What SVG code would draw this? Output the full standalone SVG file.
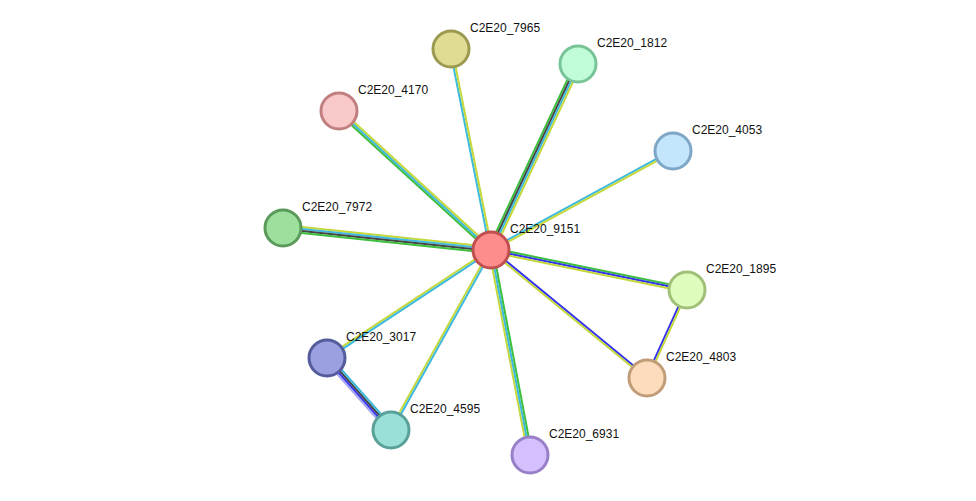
<svg xmlns="http://www.w3.org/2000/svg" width="976" height="501" viewBox="0 0 976 501">
<style>
line{stroke-width:2}
.g{stroke:#3dbe3d}.k{stroke:#444}.c{stroke:#3cb9dc}.y{stroke:#c4d83c}.b{stroke:#3333ee}.l{stroke:#a6a6f4}
circle{stroke-width:3}
text{font-family:"Liberation Sans",Arial,sans-serif;font-size:12px;fill:#111}
</style>
<rect width="976" height="501" fill="#fff"/>
<g id="edges">
<g><line class="c" x1="490" y1="250.2" x2="450" y2="49.2"/><line class="y" x1="492" y1="249.8" x2="452" y2="48.8"/></g>
<g><line class="g" x1="488.3" y1="248.7" x2="575.3" y2="62.7"/><line class="k" x1="490.1" y1="249.6" x2="577.1" y2="63.6"/><line class="c" x1="491.9" y1="250.4" x2="578.9" y2="64.4"/><line class="y" x1="493.7" y1="251.3" x2="580.7" y2="65.3"/></g>
<g><line class="g" x1="489.7" y1="251.5" x2="337.7" y2="112.5"/><line class="c" x1="491" y1="250" x2="339" y2="111"/><line class="y" x1="492.3" y1="248.5" x2="340.3" y2="109.5"/></g>
<g><line class="c" x1="490.5" y1="249.1" x2="672.5" y2="150.1"/><line class="y" x1="491.5" y1="250.9" x2="673.5" y2="151.9"/></g>
<g><line class="y" x1="491.3" y1="247" x2="283.3" y2="225"/><line class="c" x1="491.1" y1="249" x2="283.1" y2="227"/><line class="k" x1="490.9" y1="251" x2="282.9" y2="229"/><line class="g" x1="490.7" y1="253" x2="282.7" y2="231"/></g>
<g><line class="g" x1="491.4" y1="248" x2="687.4" y2="288"/><line class="b" x1="491" y1="250" x2="687" y2="290"/><line class="y" x1="490.6" y1="252" x2="686.6" y2="292"/></g>
<g><line class="b" x1="491.6" y1="249.2" x2="647.6" y2="377.2"/><line class="y" x1="490.4" y1="250.8" x2="646.4" y2="378.8"/></g>
<g><line class="y" x1="490.4" y1="249.2" x2="326.4" y2="357.2"/><line class="c" x1="491.6" y1="250.8" x2="327.6" y2="358.8"/></g>
<g><line class="y" x1="490.1" y1="249.5" x2="390.1" y2="429.5"/><line class="c" x1="491.9" y1="250.5" x2="391.9" y2="430.5"/></g>
<g><line class="y" x1="489" y1="250.4" x2="528" y2="455.4"/><line class="c" x1="491" y1="250" x2="530" y2="455"/><line class="g" x1="493" y1="249.6" x2="532" y2="454.6"/></g>
<g><line class="l" x1="324.8" y1="360" x2="388.8" y2="432"/><line class="b" x1="326.3" y1="358.7" x2="390.3" y2="430.7"/><line class="k" x1="327.8" y1="357.3" x2="391.8" y2="429.3"/><line class="c" x1="329.3" y1="356" x2="393.3" y2="428"/></g>
<g><line class="b" x1="686.1" y1="289.6" x2="646.1" y2="377.6"/><line class="y" x1="687.9" y1="290.4" x2="647.9" y2="378.4"/></g>
</g>
<g id="n9151"><circle cx="491" cy="250" r="18" fill="#ff8c8c" stroke="#c05050"/><text x="510" y="233">C2E20_9151</text></g>
<g id="n7965"><circle cx="451" cy="49" r="18" fill="#e0dc94" stroke="#9c9a50"/><text x="470" y="32">C2E20_7965</text></g>
<g id="n1812"><circle cx="578" cy="64" r="18" fill="#c0fcd8" stroke="#78c496"/><text x="597" y="47">C2E20_1812</text></g>
<g id="n4170"><circle cx="339" cy="111" r="18" fill="#f9c8c8" stroke="#c08080"/><text x="358" y="94">C2E20_4170</text></g>
<g id="n4053"><circle cx="673" cy="151" r="18" fill="#c4e6fc" stroke="#7ea6c6"/><text x="692" y="134">C2E20_4053</text></g>
<g id="n7972"><circle cx="283" cy="228" r="18" fill="#9de09d" stroke="#5a9a5a"/><text x="302" y="211">C2E20_7972</text></g>
<g id="n1895"><circle cx="687" cy="290" r="18" fill="#e0fcbc" stroke="#a0c078"/><text x="706" y="273">C2E20_1895</text></g>
<g id="n3017"><circle cx="327" cy="358" r="18" fill="#9aa0e0" stroke="#545c9c"/><text x="346" y="341">C2E20_3017</text></g>
<g id="n4803"><circle cx="647" cy="378" r="18" fill="#fcdcbc" stroke="#c09c78"/><text x="666" y="361">C2E20_4803</text></g>
<g id="n4595"><circle cx="391" cy="430" r="18" fill="#98e0d8" stroke="#58a098"/><text x="410" y="413">C2E20_4595</text></g>
<g id="n6931"><circle cx="530" cy="455" r="18" fill="#d4c0fc" stroke="#9880c8"/><text x="549" y="438">C2E20_6931</text></g>
</svg>
